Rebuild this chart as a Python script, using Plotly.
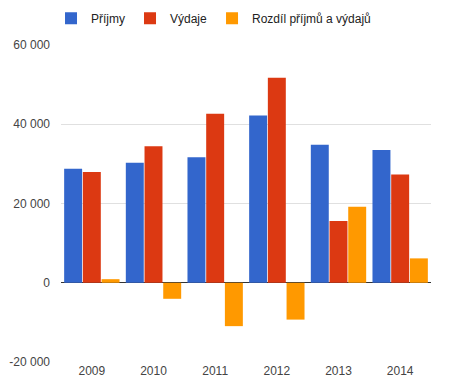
import plotly.graph_objects as go

years = ["2009", "2010", "2011", "2012", "2013", "2014"]
prijmy = [28800, 30300, 31650, 42200, 34800, 33500]
vydaje = [27950, 34450, 42650, 51750, 15600, 27300]
rozdil = [900, -4050, -10950, -9300, 19200, 6150]
series_names = ["Příjmy", "Výdaje", "Rozdíl příjmů a výdajů"]
y_ticks = [-20000, 0, 20000, 40000, 60000]
y_tick_labels = ["-20 000", "0", "20 000", "40 000", "60 000"]

colors = ["#3366cc", "#dc3912", "#ff9900"]
font = "Arial, Liberation Sans, Arimo, sans-serif"

fig = go.Figure()
for name, vals, c in zip(series_names, [prijmy, vydaje, rozdil], colors):
    fig.add_trace(go.Bar(x=years, y=vals, name=name, marker=dict(color=c, line=dict(width=0))))

# page body has an 8px default margin, so the figure is sized/offset to compensate
fig.update_layout(
    width=444, height=378,
    margin=dict(l=53, r=21, t=37, b=24, autoexpand=False),
    paper_bgcolor="white", plot_bgcolor="white",
    barmode="group", bargap=0.09, bargroupgap=0.04,
    font=dict(family=font, size=12, color="#444444"),
    showlegend=True,
    legend=dict(orientation="h", x=-0.027, xanchor="left", y=1.13, yanchor="top",
                font=dict(family=font, size=12, color="#222222"),
                itemwidth=30, traceorder="normal", bgcolor="rgba(0,0,0,0)"),
    xaxis=dict(showgrid=False, showline=False, ticks="", tickfont=dict(size=12, color="#444444")),
    yaxis=dict(range=[-20000, 60000], tickvals=y_ticks, ticktext=y_tick_labels,
               showgrid=True, gridcolor="#e0e0e0", gridwidth=1,
               zeroline=True, zerolinecolor="#333333", zerolinewidth=1,
               showline=False, ticks="", ticklen=0, ticklabelstandoff=10,
               tickfont=dict(size=12, color="#444444")),
)
fig.write_html("out.html")
